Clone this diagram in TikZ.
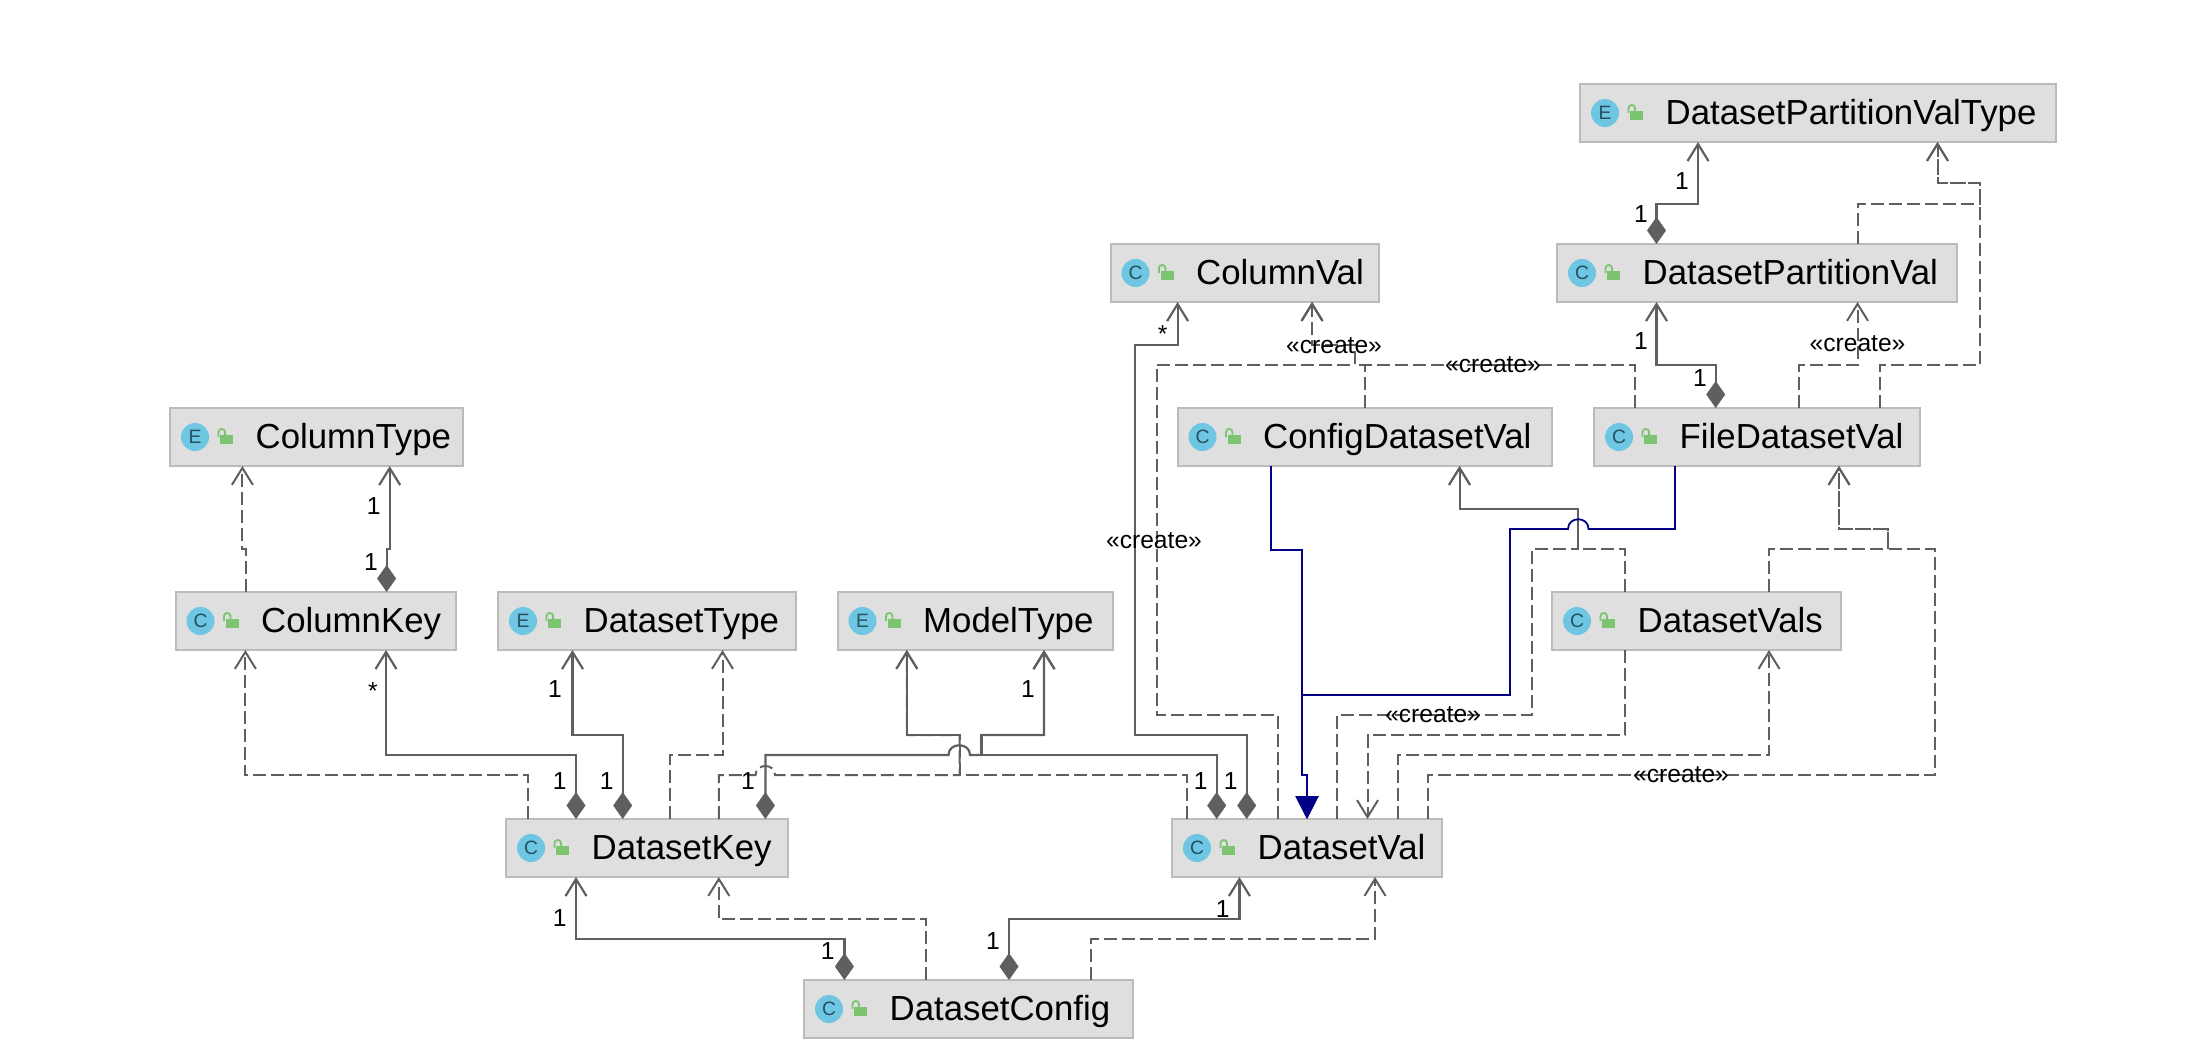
\documentclass[tikz,border=0pt]{standalone}
\usepackage{fontspec}
\setmainfont{Liberation Sans}
\usetikzlibrary{arrows.meta}
\definecolor{boxfill}{HTML}{DFDFDF}
\definecolor{boxline}{HTML}{BBBBBB}
\definecolor{relline}{HTML}{5F5F5F}
\definecolor{inhblue}{HTML}{000087}
\definecolor{iconblue}{HTML}{6EC6E3}
\definecolor{iconink}{HTML}{24505F}
\definecolor{lockgreen}{HTML}{7CC46F}
\tikzset{
  classbox/.style={draw=boxline,fill=boxfill,line width=.02cm,outer sep=0pt,
    minimum height=.58cm,anchor=north west},
  iconnode/.style={circle,fill=iconblue,text=iconink,minimum size=.28cm,inner sep=0pt,
    font=\fontsize{5.5}{6}\selectfont},
  classtxt/.style={anchor=base west,inner sep=0pt,font=\fontsize{9.9}{12}\selectfont},
  mult/.style={inner sep=0pt,font=\fontsize{7}{8}\selectfont},
  compose/.style={relline,line width=.022cm,
    {Diamond[length=.27cm,width=.19cm]}-{Straight Barb[length=.17cm,width=.21cm]}},
  depend/.style={relline,line width=.02cm,dash pattern=on .13cm off .05cm,
    -{Straight Barb[length=.17cm,width=.21cm]}},
  inherit/.style={inhblue,line width=.018cm,-{Triangle[length=.23cm,width=.23cm]}}
}
\begin{document}
\begin{tikzpicture}[y=-1cm]
  \useasboundingbox (0,-.01) rectangle (21.86,10.61);

  \foreach \name/\lft/\tp/\wdt/\ltr/\txt in {
    cType/1.70/4.07/2.925/E/ColumnType,
    cKey/1.755/5.91/2.805/C/ColumnKey,
    dType/4.98/5.91/2.98/E/DatasetType,
    mType/8.375/5.91/2.75/E/ModelType,
    dKey/5.06/8.18/2.82/C/DatasetKey,
    dVal/11.72/8.18/2.70/C/DatasetVal,
    dConf/8.04/9.79/3.29/C/DatasetConfig,
    colVal/11.105/2.43/2.685/C/ColumnVal,
    dpVal/15.57/2.43/4.00/C/DatasetPartitionVal,
    dpvType/15.80/.83/4.76/E/DatasetPartitionValType,
    cfgVal/11.775/4.07/3.745/C/ConfigDatasetVal,
    fileVal/15.94/4.07/3.26/C/FileDatasetVal,
    dVals/15.52/5.91/2.89/C/DatasetVals} {
    \node[classbox,minimum width=\wdt cm] (\name) at (\lft,\tp) {};
    \begin{scope}[shift={(\name.north west)}]
      \node[iconnode] (\name ic) at (.25,.29) {\ltr};
      \fill[lockgreen] (.50,.27) rectangle (.633,.363);
      \draw[lockgreen,line width=.018cm] (.485,.29) -- (.485,.24)
        .. controls (.485,.20) and (.55,.20) .. (.55,.24) -- (.55,.27);
      \node[classtxt] (\name txt) at (.85,.40) {\txt};
    \end{scope}
  }

  \draw[depend] (2.455,0 |- cKey.north) -- (2.455,5.48) -- (2.424,5.48) -- (2.424,0 |- cType.south);
  \draw[depend] (5.28,0 |- dKey.north) -- (5.28,7.74) -- (2.454,7.74) -- (2.454,0 |- cKey.south);
  \draw[depend] (6.704,0 |- dKey.north) -- (6.704,7.54) -- (7.225,7.54) -- (7.225,0 |- dType.south);
  \draw[depend] (7.188,0 |- dKey.north) -- (7.188,7.74) -- (7.556,7.74)
    .. controls (7.556,7.62) and (7.75,7.62) .. (7.75,7.74) -- (9.595,7.74) -- (9.595,7.34)
    -- (9.068,7.34) -- (9.068,0 |- mType.south);
  \draw[depend] (11.867,0 |- dVal.north) -- (11.867,7.74) -- (9.595,7.74) -- (9.595,7.34)
    -- (9.068,7.34) -- (9.068,0 |- mType.south);
  \draw[depend] (9.264,0 |- dConf.north) -- (9.264,9.18) -- (7.188,9.18) -- (7.188,0 |- dKey.south);
  \draw[depend] (10.91,0 |- dConf.north) -- (10.91,9.38) -- (13.75,9.38) -- (13.75,0 |- dVal.south);
  \draw[depend] (13.65,0 |- cfgVal.north) -- (13.65,3.64) -- (13.546,3.64) -- (13.546,3.44)
    -- (13.12,3.44) -- (13.12,0 |- colVal.south);
  \draw[depend] (12.78,0 |- dVal.north) -- (12.78,7.14) -- (11.567,7.14) -- (11.567,3.64)
    -- (13.546,3.64) -- (13.546,3.44) -- (13.12,3.44) -- (13.12,0 |- colVal.south);
  \draw[depend] (16.35,0 |- fileVal.north) -- (16.35,3.64) -- (13.546,3.64) -- (13.546,3.44)
    -- (13.12,3.44) -- (13.12,0 |- colVal.south);
  \draw[depend] (18.575,0 |- dpVal.north) -- (18.575,2.027) -- (19.80,2.027) -- (19.80,1.82)
    -- (19.375,1.82) -- (19.375,0 |- dpvType.south);
  \draw[depend] (18.80,0 |- fileVal.north) -- (18.80,3.64) -- (19.80,3.64) -- (19.80,1.82)
    -- (19.375,1.82) -- (19.375,0 |- dpvType.south);
  \draw[depend] (17.99,0 |- fileVal.north) -- (17.99,3.64) -- (18.575,3.64)
    -- (18.575,0 |- dpVal.south);
  \draw[depend] (13.37,0 |- dVal.north) -- (13.37,7.14) -- (15.318,7.14) -- (15.318,5.48)
    -- (15.78,5.48) -- (15.78,5.08) -- (14.595,5.08) -- (14.595,0 |- cfgVal.south);
  \draw[depend] (16.246,0 |- dVals.north) -- (16.246,5.48) -- (15.78,5.48) -- (15.78,5.08)
    -- (14.595,5.08) -- (14.595,0 |- cfgVal.south);
  \draw[depend] (16.246,0 |- dVals.south) -- (16.246,7.34) -- (13.675,7.34) -- (13.675,0 |- dVal.north);
  \draw[depend] (13.98,0 |- dVal.north) -- (13.98,7.54) -- (17.69,7.54) -- (17.69,0 |- dVals.south);
  \draw[depend] (14.28,0 |- dVal.north) -- (14.28,7.74) -- (19.35,7.74) -- (19.35,5.48)
    -- (18.876,5.48) -- (18.876,5.28) -- (18.39,5.28) -- (18.39,0 |- fileVal.south);
  \draw[depend] (17.69,0 |- dVals.north) -- (17.69,5.48) -- (18.876,5.48) -- (18.876,5.28)
    -- (18.39,5.28) -- (18.39,0 |- fileVal.south);

  \draw[compose] (3.866,0 |- cKey.north) -- (3.866,5.48) -- (3.897,5.48) -- (3.897,0 |- cType.south);
  \draw[compose] (5.76,0 |- dKey.north) -- (5.76,7.54) -- (3.86,7.54) -- (3.86,0 |- cKey.south);
  \draw[compose] (6.227,0 |- dKey.north) -- (6.227,7.34) -- (5.725,7.34) -- (5.725,0 |- dType.south);
  \draw[compose] (7.654,0 |- dKey.north) -- (7.654,7.54) -- (9.485,7.54)
    .. controls (9.485,7.41) and (9.70,7.41) .. (9.70,7.54) -- (9.815,7.54) -- (9.815,7.34)
    -- (10.44,7.34) -- (10.44,0 |- mType.south);
  \draw[compose] (12.167,0 |- dVal.north) -- (12.167,7.54) -- (9.815,7.54) -- (9.815,7.34)
    -- (10.44,7.34) -- (10.44,0 |- mType.south);
  \draw[compose] (12.467,0 |- dVal.north) -- (12.467,7.34) -- (11.346,7.34) -- (11.346,3.44)
    -- (11.776,3.44) -- (11.776,0 |- colVal.south);
  \draw[compose] (8.444,0 |- dConf.north) -- (8.444,9.38) -- (5.76,9.38) -- (5.76,0 |- dKey.south);
  \draw[compose] (10.09,0 |- dConf.north) -- (10.09,9.18) -- (12.394,9.18) -- (12.394,0 |- dVal.south);
  \draw[compose] (16.565,0 |- dpVal.north) -- (16.565,2.027) -- (16.98,2.027) -- (16.98,0 |- dpvType.south);
  \draw[compose] (17.157,0 |- fileVal.north) -- (17.157,3.64) -- (16.565,3.64) -- (16.565,0 |- dpVal.south);

  \draw[inherit] (12.71,0 |- cfgVal.south) -- (12.71,5.486) -- (13.02,5.486) -- (13.02,7.74)
    -- (13.07,7.74) -- (13.07,0 |- dVal.north);
  \draw[inherit] (16.75,0 |- fileVal.south) -- (16.75,5.28) -- (15.885,5.28)
    .. controls (15.885,5.15) and (15.68,5.15) .. (15.68,5.28) -- (15.10,5.28) -- (15.10,6.94)
    -- (13.02,6.94) -- (13.02,7.74) -- (13.07,7.74) -- (13.07,0 |- dVal.north);

  \foreach \i/\x/\y in {a/16.82/1.80,b/16.41/2.13,c/16.41/3.40,d/17.00/3.77,e/3.737/5.05,
    f/3.71/5.606,g/5.55/6.88,h/5.596/7.80,k/6.068/7.80,l/7.48/7.80,m/10.28/6.88,n/12.008/7.80,
    o/12.307/7.80,p/5.596/9.167,q/8.278/9.50,r/12.228/9.077,s/9.93/9.40} {
    \node[mult] (one\i) at (\x,\y) {1};
  }
  \node[mult] (starA) at (11.626,3.33) {*};
  \node[mult] (starB) at (3.728,6.90) {*};
  \foreach \i/\x/\y in {a/13.34/3.45,b/14.93/3.64,c/18.575/3.43,d/11.54/5.395,e/14.33/7.14,f/16.81/7.74} {
    \node[mult] (create\i) at (\x,\y) {«create»};
  }
\end{tikzpicture}
\end{document}
